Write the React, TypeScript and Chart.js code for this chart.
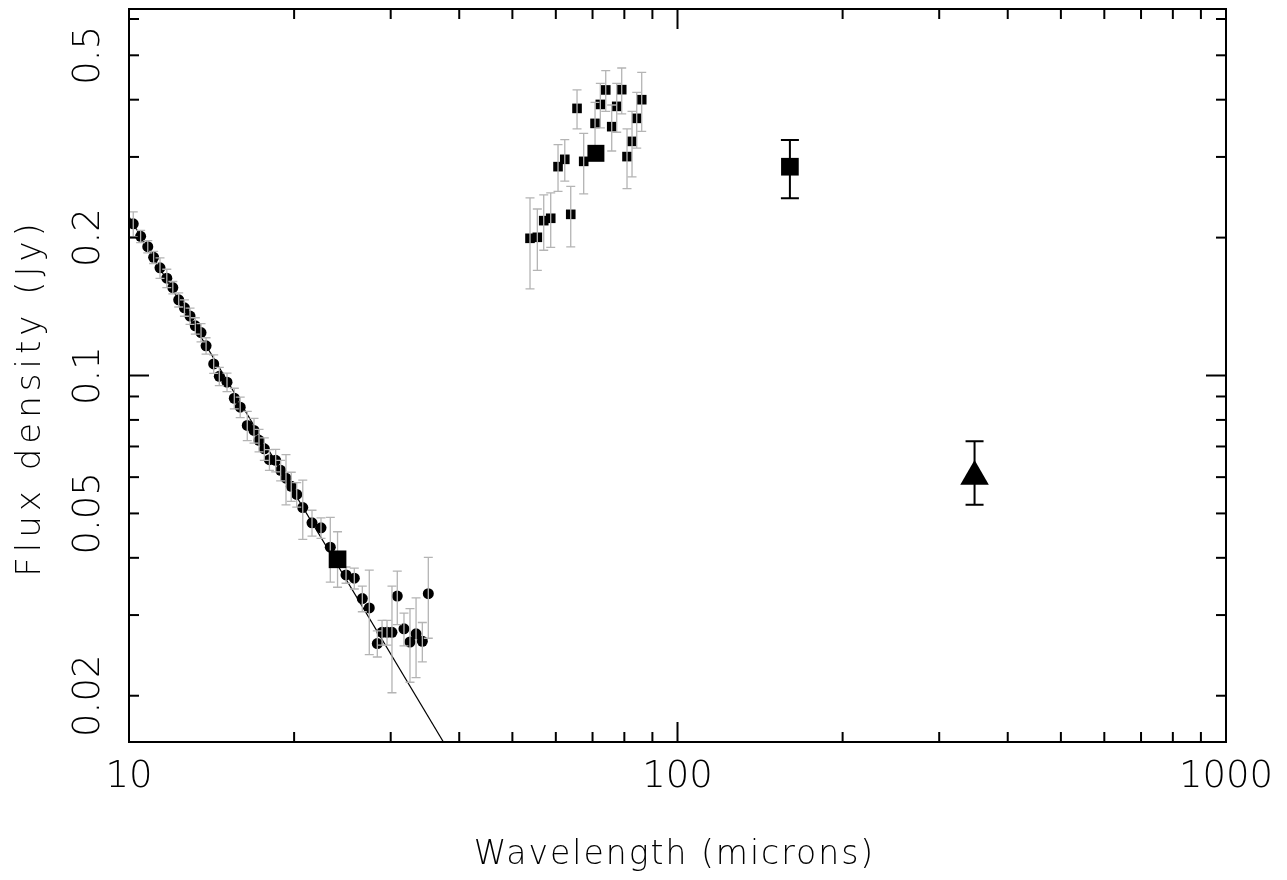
import React, { useEffect, useRef } from 'react';
import { Chart, registerables } from 'chart.js';

Chart.register(...registerables);

// ---------- data ----------
const irsWavelength = [
  10.18, 10.5, 10.82, 11.09, 11.39, 11.72, 12.02, 12.32, 12.62, 12.92,
  13.21, 13.53, 13.82, 14.27, 14.61, 15.09, 15.56, 15.95, 16.43, 16.9,
  17.26, 17.65, 18.03, 18.51, 18.9, 19.33, 19.76, 20.22, 20.74, 21.56,
  22.39, 23.28, 24.87, 25.75, 26.63, 27.42, 28.36, 28.93, 29.54, 30.16,
  30.84, 31.72, 32.53, 33.37, 34.26, 35.13,
];
const irsFlux = [
  0.2143, 0.2013, 0.1911, 0.1811, 0.1718, 0.1631, 0.1556, 0.1463, 0.1405, 0.1348,
  0.1284, 0.1241, 0.1161, 0.106, 0.0996, 0.0967, 0.0892, 0.0853, 0.0778, 0.0759,
  0.0722, 0.0692, 0.0655, 0.0653, 0.0621, 0.0597, 0.0573, 0.055, 0.0515, 0.0477,
  0.0465, 0.0422, 0.0367, 0.0361, 0.0326, 0.0311, 0.026, 0.0275, 0.0275, 0.0275,
  0.033, 0.028, 0.0262, 0.0273, 0.0263, 0.0334,
];
const irsError = [
  0.0133, 0.0062, 0.0058, 0.0055, 0.0088, 0.0075, 0.0048, 0.0052, 0.0058, 0.0055,
  0.0053, 0.0057, 0.0048, 0.0049, 0.0046, 0.0045, 0.0046, 0.0044, 0.0057, 0.0047,
  0.0041, 0.0039, 0.0034, 0.0037, 0.0032, 0.0075, 0.0042, 0.0034, 0.0076, 0.0031,
  0.0024, 0.0068, 0.0015, 0.0019, 0.0021, 0.0065, 0.0017, 0.0017, 0.0017, 0.0072,
  0.0044, 0.0023, 0.0048, 0.0054, 0.0026, 0.0067,
];

const sedWavelength = [
  53.84, 55.52, 57.03, 58.73, 60.56, 62.3, 63.88, 65.59, 67.45, 70.74,
  72.33, 73.99, 75.87, 77.48, 79.12, 80.9, 82.62, 84.27, 86.05,
];
const sedFlux = [
  0.1993, 0.2003, 0.2178, 0.2204, 0.2857, 0.2964, 0.2248, 0.3829, 0.2934, 0.3551,
  0.3906, 0.4201, 0.3493, 0.3868, 0.4207, 0.3005, 0.3244, 0.3642, 0.4,
];
const sedError = [
  0.0448, 0.0306, 0.0301, 0.03, 0.0334, 0.0308, 0.0339, 0.0375, 0.0443, 0.0394,
  0.0434, 0.0428, 0.0402, 0.0472, 0.0484, 0.0448, 0.0529, 0.0506, 0.0588,
];

const mips24Wavelength = [24.0];
const mips24Flux = [0.0397];
const mips24ErrHi = [0.0059];
const mips24ErrLo = [0.0052];

const mips70Wavelength = [71.0];
const mips70Flux = [0.3055];

const mips160Wavelength = [160.3];
const mips160Flux = [0.2856];
const mips160ErrHi = [0.041];
const mips160ErrLo = [0.042];

const sub350Wavelength = [348];
const sub350Flux = [0.0602];
const sub350ErrHi = [0.0117];
const sub350ErrLo = [0.008];

const modelWavelength = [10, 40];
const modelFlux = [0.222, 0.01388];

const xMin = 10;
const xMax = 1000;
const yMin = 0.01585;
const yMax = 0.631;

const xMajorTicks = [10, 100, 1000];
const xMinorTicks = [20, 30, 40, 50, 60, 70, 80, 90, 200, 300, 400, 500, 600, 700, 800, 900];
const xTickLabels = ['10', '100', '1000'];
const yMajorTicks = [0.1];
const yMinorTicks = [0.02, 0.03, 0.04, 0.05, 0.06, 0.07, 0.08, 0.09, 0.2, 0.3, 0.4, 0.5, 0.6];
const yLabelValues = [0.02, 0.05, 0.1, 0.2, 0.5];
const yTickLabels = ['0.02', '0.05', '0.1', '0.2', '0.5'];

const xTitle = 'Wavelength (microns)';
const yTitle = 'Flux density (Jy)';

const FONT_FAMILY = '"DejaVu Sans", "Liberation Sans", sans-serif';
const GREY = '#b4b4b4';

const pts = (xs: number[], ys: number[]) => xs.map((x, i) => ({ x, y: ys[i] }));

function drawErrors(chart: any, ds: any) {
  if (!ds.errHi) return;
  const { ctx, chartArea: a } = chart;
  const xs = chart.scales.x;
  const ys = chart.scales.y;
  ctx.save();
  ctx.beginPath();
  ctx.rect(a.left, a.top, a.right - a.left, a.bottom - a.top);
  ctx.clip();
  ctx.strokeStyle = ds.errColor;
  ctx.lineWidth = ds.errWidth;
  ctx.lineCap = 'butt';
  ds.data.forEach((p: any, i: number) => {
    const px = xs.getPixelForValue(p.x);
    const top = ys.getPixelForValue(p.y + ds.errHi[i]);
    const bot = ys.getPixelForValue(p.y - ds.errLo[i]);
    const c = ds.capHalf;
    ctx.beginPath();
    ctx.moveTo(px, top);
    ctx.lineTo(px, bot);
    ctx.moveTo(px - c, top);
    ctx.lineTo(px + c, top);
    ctx.moveTo(px - c, bot);
    ctx.lineTo(px + c, bot);
    ctx.stroke();
  });
  ctx.restore();
}

const errorBarPlugin = {
  id: 'errorBars',
  beforeDatasetDraw(chart: any, args: any) {
    const ds = chart.data.datasets[args.index];
    if (ds.errBehind) drawErrors(chart, ds);
  },
  afterDatasetDraw(chart: any, args: any) {
    const ds = chart.data.datasets[args.index];
    if (!ds.errBehind) drawErrors(chart, ds);
  },
};

const frameAxesPlugin = {
  id: 'frameAxes',
  afterDraw(chart: any) {
    const { ctx, chartArea: a } = chart;
    const xs = chart.scales.x;
    const ys = chart.scales.y;
    ctx.save();
    ctx.strokeStyle = '#000';
    ctx.fillStyle = '#000';
    ctx.lineWidth = 2;
    ctx.strokeRect(a.left, a.top, a.right - a.left, a.bottom - a.top);

    const seg = (x1: number, y1: number, x2: number, y2: number) => {
      ctx.beginPath();
      ctx.moveTo(x1, y1);
      ctx.lineTo(x2, y2);
      ctx.stroke();
    };
    const xTick = (v: number, len: number) => {
      const px = xs.getPixelForValue(v);
      seg(px, a.bottom, px, a.bottom - len);
      seg(px, a.top, px, a.top + len);
    };
    const yTick = (v: number, len: number) => {
      const py = ys.getPixelForValue(v);
      seg(a.left, py, a.left + len, py);
      seg(a.right, py, a.right - len, py);
    };
    xMinorTicks.forEach((v) => xTick(v, 10));
    xMajorTicks.forEach((v) => xTick(v, 20));
    yMinorTicks.forEach((v) => yTick(v, 10));
    yMajorTicks.forEach((v) => yTick(v, 20));

    // tick labels
    ctx.font = `200 37px ${FONT_FAMILY}`;
    ctx.textAlign = 'center';
    ctx.textBaseline = 'middle';
    xMajorTicks.forEach((v, i) => {
      ctx.fillText(xTickLabels[i], xs.getPixelForValue(v), a.bottom + 35);
    });
    yLabelValues.forEach((v, i) => {
      const py = ys.getPixelForValue(v);
      ctx.save();
      ctx.translate(a.left - 40, py);
      ctx.rotate(-Math.PI / 2);
      ctx.fillText(yTickLabels[i], 0, 0);
      ctx.restore();
    });

    // axis titles
    ctx.font = `200 33px ${FONT_FAMILY}`;
    (ctx as any).letterSpacing = '2px';
    ctx.fillText(xTitle, (a.left + a.right) / 2 - 3, a.bottom + 113);
    ctx.save();
    ctx.font = `200 34px ${FONT_FAMILY}`;
    (ctx as any).letterSpacing = '5px';
    ctx.translate(a.left - 98, (a.top + a.bottom) / 2 + 22);
    ctx.rotate(-Math.PI / 2);
    ctx.fillText(yTitle, 0, 0);
    ctx.restore();
    ctx.restore();
  },
};

export default function App() {
  const canvasRef = useRef<HTMLCanvasElement | null>(null);

  useEffect(() => {
    document.body.style.margin = '0';
    const canvas = canvasRef.current;
    if (!canvas) return;
    const chart = new Chart(canvas, {
      type: 'scatter',
      data: {
        datasets: [
          {
            label: 'model',
            data: pts(modelWavelength, modelFlux),
            showLine: true,
            borderColor: '#000',
            borderWidth: 1.2,
            pointRadius: 0,
            fill: false,
            order: 7,
          } as any,
          {
            label: 'IRS',
            data: pts(irsWavelength, irsFlux),
            pointStyle: 'circle',
            pointRadius: 5.5,
            backgroundColor: '#000',
            borderWidth: 0,
            order: 6,
            errHi: irsError,
            errLo: irsError,
            errColor: GREY,
            errWidth: 1.3,
            capHalf: 4.5,
          } as any,
          {
            label: 'MIPS SED',
            data: pts(sedWavelength, sedFlux),
            pointStyle: 'rect',
            pointRadius: 6.8,
            backgroundColor: '#000',
            borderWidth: 0,
            order: 5,
            errHi: sedError,
            errLo: sedError,
            errColor: GREY,
            errWidth: 1.3,
            capHalf: 4.5,
          } as any,
          {
            label: 'MIPS 24',
            data: pts(mips24Wavelength, mips24Flux),
            pointStyle: 'rect',
            pointRadius: 12.5,
            backgroundColor: '#000',
            borderWidth: 0,
            order: 4,
            errHi: mips24ErrHi,
            errLo: mips24ErrLo,
            errColor: GREY,
            errWidth: 1.3,
            capHalf: 4.5,
            errBehind: true,
          } as any,
          {
            label: 'MIPS 70',
            data: pts(mips70Wavelength, mips70Flux),
            pointStyle: 'rect',
            pointRadius: 12,
            backgroundColor: '#000',
            borderWidth: 0,
            order: 3,
          } as any,
          {
            label: 'MIPS 160',
            data: pts(mips160Wavelength, mips160Flux),
            pointStyle: 'rect',
            pointRadius: 12.5,
            backgroundColor: '#000',
            borderWidth: 0,
            order: 2,
            errHi: mips160ErrHi,
            errLo: mips160ErrLo,
            errColor: '#000',
            errWidth: 2,
            capHalf: 9,
            errBehind: true,
          } as any,
          {
            label: '350',
            data: pts(sub350Wavelength, sub350Flux),
            pointStyle: 'triangle',
            pointRadius: 16.5,
            backgroundColor: '#000',
            borderWidth: 0,
            order: 1,
            errHi: sub350ErrHi,
            errLo: sub350ErrLo,
            errColor: '#000',
            errWidth: 2,
            capHalf: 9,
            errBehind: true,
          } as any,
        ],
      },
      options: {
        animation: false,
        responsive: false,
        devicePixelRatio: 1,
        events: [],
        layout: { autoPadding: false, padding: { left: 129, right: 61, top: 9, bottom: 138 } },
        plugins: { legend: { display: false }, tooltip: { enabled: false } },
        scales: {
          x: { type: 'logarithmic', min: xMin, max: xMax, display: false },
          y: { type: 'logarithmic', min: yMin, max: yMax, display: false },
        },
      },
      plugins: [errorBarPlugin, frameAxesPlugin],
    });
    return () => chart.destroy();
  }, []);

  return (
    <div style={{ width: 1287, height: 880, background: '#fff' }}>
      <canvas ref={canvasRef} width={1287} height={880} style={{ display: 'block' }} />
    </div>
  );
}
